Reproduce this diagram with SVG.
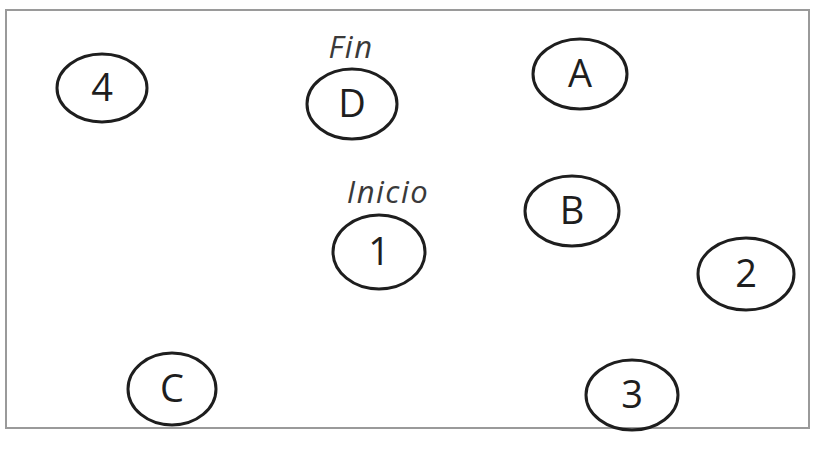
<svg xmlns="http://www.w3.org/2000/svg" width="813" height="457" viewBox="0 0 813 457">
  <style>
    .frame { fill: none; stroke: #9a9a9a; stroke-width: 2; }
    .node ellipse { fill: none; stroke: #1e1e1e; stroke-width: 3; }
    .node text { font-family: "Open Sans", "Noto Sans", sans-serif; font-size: 38px; fill: #1e1e1e; text-anchor: middle; }
    .node text.tag { font-size: 31px; font-style: italic; letter-spacing: 1.5px; fill: #3a3a3a; }
  </style>
  <rect width="813" height="457" fill="#ffffff"/>
  <rect class="frame" x="6" y="10" width="803" height="418"/>

  <g id="connectors"></g>

  <g id="node-4" class="node">
    <ellipse cx="102" cy="88" rx="45" ry="34"/>
    <text x="102" y="101">4</text>
  </g>
  <g id="node-D" class="node">
    <text class="tag" x="351" y="58">Fin</text>
    <ellipse cx="352" cy="104" rx="45" ry="35"/>
    <text x="352" y="117">D</text>
  </g>
  <g id="node-A" class="node">
    <ellipse cx="580" cy="74" rx="47" ry="35"/>
    <text x="580" y="87">A</text>
  </g>
  <g id="node-1" class="node">
    <text class="tag" x="388" y="203">Inicio</text>
    <ellipse cx="379" cy="252" rx="46" ry="37"/>
    <text x="379" y="265">1</text>
  </g>
  <g id="node-B" class="node">
    <ellipse cx="572" cy="211" rx="47" ry="35"/>
    <text x="572" y="224">B</text>
  </g>
  <g id="node-2" class="node">
    <ellipse cx="746" cy="274" rx="48" ry="36"/>
    <text x="746" y="287">2</text>
  </g>
  <g id="node-C" class="node">
    <ellipse cx="172" cy="389" rx="44" ry="36"/>
    <text x="172" y="402">C</text>
  </g>
  <g id="node-3" class="node">
    <ellipse cx="632" cy="395" rx="46" ry="35"/>
    <text x="632" y="408">3</text>
  </g>
</svg>
